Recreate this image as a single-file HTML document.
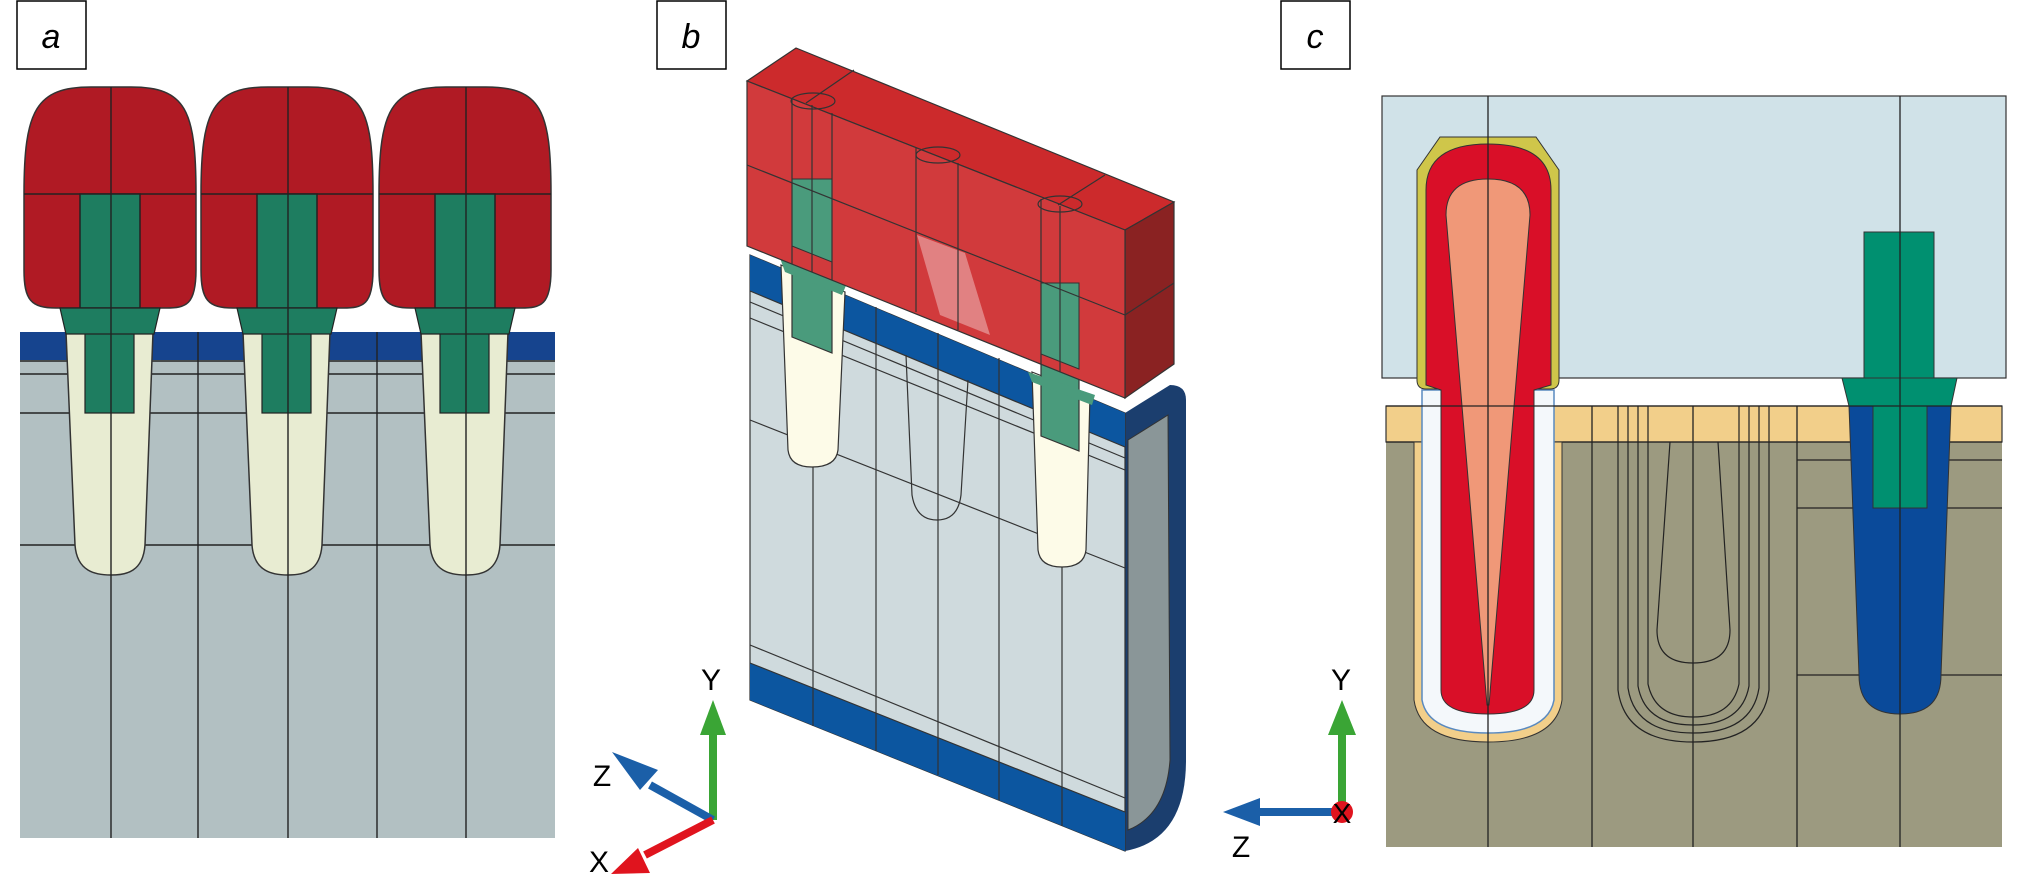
<!DOCTYPE html>
<html><head><meta charset="utf-8"><style>
html,body{margin:0;padding:0;background:#fff}
svg{display:block}
text{font-family:"Liberation Sans",sans-serif}
</style></head><body>
<svg width="2019" height="878" viewBox="0 0 2019 878" xmlns="http://www.w3.org/2000/svg">
<defs>
<g id="headA">
  <path d="M-87,194 C-87,110 -75,87 -20,87 L20,87 C75,87 85,110 85,194 L85,270 C85,305 75,308 55,308 L-55,308 C-80,308 -87,300 -87,270 Z" fill="#b01a24" stroke="#333" stroke-width="1.5"/>
  <line x1="-87" y1="194" x2="85" y2="194" stroke="#222" stroke-width="1.5"/>
  <rect x="-31" y="194" width="60" height="114" fill="#1e7d60" stroke="#222" stroke-width="1.5"/>
  <polygon points="-51,308 49,308 43,334 -45,334" fill="#1e7d60" stroke="#222" stroke-width="1.2"/>
</g>
<g id="plugA">
  <path d="M-45,332 L42,332 L34,545 C32,572 15,575 0,575 C-15,575 -34,572 -36,545 Z" fill="#e8ecd2" stroke="#333" stroke-width="1.5"/>
  <rect x="-26" y="332" width="49" height="81" fill="#1e7d60" stroke="#222" stroke-width="1.2"/>
</g>
</defs>

<!-- Panel a -->
<rect x="17" y="1" width="69" height="68" fill="#fff" stroke="#000" stroke-width="1.5"/>
<text x="51" y="48" font-size="34" font-style="italic" text-anchor="middle">a</text>
<rect x="20" y="360" width="535" height="478" fill="#b2c0c2"/>
<rect x="20" y="332" width="535" height="28" fill="#16448e"/>
<g stroke="#222" stroke-width="1.4">
<line x1="20" y1="361" x2="555" y2="361"/><line x1="20" y1="374" x2="555" y2="374"/>
<line x1="20" y1="413" x2="555" y2="413"/><line x1="20" y1="545" x2="555" y2="545"/>
<line x1="198" y1="332" x2="198" y2="838"/><line x1="377" y1="332" x2="377" y2="838"/>
</g>
<use href="#plugA" x="111"/><use href="#plugA" x="288"/><use href="#plugA" x="466"/>
<use href="#headA" x="111"/><use href="#headA" x="288"/><use href="#headA" x="466"/>
<g stroke="#222" stroke-width="1.4">
<line x1="111" y1="87" x2="111" y2="838"/><line x1="288" y1="87" x2="288" y2="838"/><line x1="466" y1="87" x2="466" y2="838"/>
</g>

<!-- Panel b -->
<rect x="657" y="1" width="69" height="68" fill="#fff" stroke="#000" stroke-width="1.5"/>
<text x="691" y="48" font-size="34" font-style="italic" text-anchor="middle">b</text>
<!-- substrate side -->
<path d="M1125,413 L1170,385 Q1186,385 1186,400 L1186,760 Q1186,840 1125,851 Z" fill="#1b3e6e"/>
<path d="M1128,440 L1168,415 L1170,760 Q1166,815 1128,830 Z" fill="#8a9698" stroke="#333" stroke-width="1"/>
<!-- substrate front -->
<polygon points="750,255 1125,413 1125,851 750,700" fill="#cfdadd" stroke="#333" stroke-width="1.2"/>
<polygon points="750,255 1125,413 1125,447 750,291" fill="#0c56a0"/>
<polygon points="750,663 1125,812 1125,851 750,700" fill="#0c56a0"/>
<g stroke="#333" stroke-width="1.2" fill="none">
<line x1="750" y1="291" x2="1125" y2="447"/><line x1="750" y1="302" x2="1125" y2="458"/>
<line x1="750" y1="318" x2="1125" y2="470"/><line x1="750" y1="420" x2="1125" y2="568"/>
<line x1="750" y1="645" x2="1125" y2="798"/><line x1="750" y1="663" x2="1125" y2="812"/>
<line x1="813" y1="280" x2="813" y2="726"/><line x1="876" y1="307" x2="876" y2="751"/>
<line x1="938" y1="333" x2="938" y2="775"/><line x1="999" y1="358" x2="999" y2="800"/>
<line x1="1062" y1="386" x2="1062" y2="826"/>
<path d="M906,355 L912,495 Q916,520 937,520 Q958,520 961,495 L968,380"/>
</g>
<!-- plugs b -->
<path d="M781,265 L845,292 L838,450 Q836,467 812,467 Q790,467 788,450 Z" fill="#fdfbe8" stroke="#333" stroke-width="1.2"/>
<path d="M1032,372 L1090,395 L1086,550 Q1084,567 1062,567 Q1040,567 1038,550 Z" fill="#fdfbe8" stroke="#333" stroke-width="1.2"/>
<polygon points="792,179 832,179 832,353 792,337" fill="#4a9b7c" stroke="#333" stroke-width="1.2"/>
<polygon points="1041,283 1079,283 1079,451 1041,436" fill="#4a9b7c" stroke="#333" stroke-width="1.2"/>
<polygon points="780,258 847,283 842,295 785,272" fill="#4a9b7c"/>
<polygon points="1028,372 1095,395 1092,405 1032,382" fill="#4a9b7c"/>
<!-- red block -->
<polygon points="747,81 796,48 1174,202 1125,230" fill="#cc2a2c" stroke="#333" stroke-width="1.2"/>
<polygon points="1125,230 1174,202 1174,364 1125,398" fill="#8a2222" stroke="#333" stroke-width="1.2"/>
<polygon points="747,81 1125,230 1125,398 747,246" fill="#d13a3c" stroke="#333" stroke-width="1.2"/>
<polygon points="792,179 832,179 832,262 792,246" fill="#4a9b7c" stroke="#333" stroke-width="1"/>
<polygon points="1041,283 1079,283 1079,369 1041,354" fill="#4a9b7c" stroke="#333" stroke-width="1"/>
<polygon points="917,235 965,253 990,335 940,315" fill="#e8a0a0" opacity="0.7"/>
<g stroke="#333" stroke-width="1.2" fill="none">
<line x1="747" y1="165" x2="1125" y2="315"/><line x1="1125" y1="315" x2="1174" y2="283"/>
<line x1="792" y1="99" x2="792" y2="264"/><line x1="812" y1="105" x2="812" y2="272"/><line x1="832" y1="113" x2="832" y2="280"/>
<line x1="916" y1="148" x2="916" y2="312"/><line x1="958" y1="163" x2="958" y2="330"/>
<line x1="1041" y1="199" x2="1041" y2="364"/><line x1="1060" y1="206" x2="1060" y2="372"/>
<line x1="855" y1="74" x2="1125" y2="230" stroke-width="0"/>
<ellipse cx="813" cy="101" rx="22" ry="8"/><ellipse cx="938" cy="155" rx="22" ry="8"/><ellipse cx="1060" cy="204" rx="22" ry="8"/>
<line x1="854" y1="70" x2="806" y2="103"/><line x1="1105" y1="175" x2="1058" y2="205"/>
</g>
<!-- axis b -->
<g stroke-linecap="butt">
<line x1="713" y1="820" x2="713" y2="730" stroke="#3aa535" stroke-width="8"/>
<polygon points="713,700 700,735 726,735" fill="#3aa535"/>
<line x1="713" y1="820" x2="650" y2="785" stroke="#1b5fa8" stroke-width="8"/>
<polygon points="612,752 640,790 658,770" fill="#1b5fa8"/>
<line x1="713" y1="820" x2="645" y2="855" stroke="#e0141e" stroke-width="8"/>
<polygon points="611,874 650,873 638,848" fill="#e0141e"/>
</g>
<text x="711" y="690" font-size="30" text-anchor="middle">Y</text>
<text x="602" y="786" font-size="30" text-anchor="middle">Z</text>
<text x="599" y="872" font-size="30" text-anchor="middle">X</text>

<!-- Panel c -->
<rect x="1281" y="1" width="69" height="68" fill="#fff" stroke="#000" stroke-width="1.5"/>
<text x="1315" y="48" font-size="34" font-style="italic" text-anchor="middle">c</text>
<rect x="1382" y="96" width="624" height="282" fill="#d0e2e8" stroke="#333" stroke-width="1.2"/>
<rect x="1386" y="442" width="616" height="405" fill="#9c9a80"/>
<rect x="1386" y="406" width="616" height="36" fill="#f2cf8a" stroke="#333" stroke-width="1.2"/>
<g stroke="#222" stroke-width="1.3">
<line x1="1386" y1="442" x2="2002" y2="442"/>
<line x1="1592" y1="406" x2="1592" y2="847"/><line x1="1693" y1="406" x2="1693" y2="847"/>
<line x1="1797" y1="406" x2="1797" y2="847"/>
<line x1="1797" y1="460" x2="2002" y2="460"/><line x1="1797" y1="508" x2="2002" y2="508"/><line x1="1797" y1="675" x2="2002" y2="675"/>
</g>
<!-- middle outlines -->
<g fill="none" stroke="#222" stroke-width="1.2">
<path d="M1618,406 L1618,690 Q1625,742 1693,742 Q1762,742 1769,690 L1769,406"/>
<path d="M1628,406 L1628,688 Q1635,733 1693,733 Q1752,733 1759,688 L1759,406"/>
<path d="M1638,406 L1638,686 Q1645,725 1693,725 Q1742,725 1749,686 L1749,406"/>
<path d="M1648,406 L1648,684 Q1655,717 1693,717 Q1732,717 1739,684 L1739,406"/>
<path d="M1670,442 L1657,630 Q1657,663 1693,663 Q1730,663 1730,630 L1718,442"/>
</g>
<!-- left electrode -->
<path d="M1414,442 L1414,700 Q1420,742 1488,742 Q1556,742 1562,700 L1562,442 Z" fill="#f2cf8a" stroke="#333" stroke-width="1"/>
<path d="M1422,390 L1422,700 Q1428,733 1488,733 Q1548,733 1554,700 L1554,390 Z" fill="#f4f8fb" stroke="#5a8ac0" stroke-width="1.5"/>
<path d="M1417,170 L1440,137 L1536,137 L1559,170 L1559,380 Q1559,389 1550,389 L1426,389 Q1417,389 1417,380 Z" fill="#cfc64a" stroke="#333" stroke-width="1"/>
<path d="M1426,190 Q1426,144 1488,144 Q1551,144 1551,190 L1551,385 L1534,390 L1534,690 Q1534,714 1488,714 Q1441,714 1441,690 L1441,390 L1426,385 Z" fill="#d90f28" stroke="#333" stroke-width="1"/>
<path d="M1446,215 Q1446,179 1488,179 Q1530,179 1530,215 L1489,705 L1487,705 Z" fill="#f09878" stroke="#333" stroke-width="1"/>
<!-- right plug -->
<path d="M1849,406 L1951,406 L1941,675 Q1941,714 1900,714 Q1859,714 1859,675 Z" fill="#0a4a9a" stroke="#333" stroke-width="1"/>
<rect x="1873" y="406" width="54" height="102" fill="#009070" stroke="#333" stroke-width="1"/>
<polygon points="1842,378 1957,378 1951,406 1849,406" fill="#009070" stroke="#333" stroke-width="1"/>
<rect x="1864" y="232" width="70" height="146" fill="#009070" stroke="#333" stroke-width="1"/>
<g stroke="#222" stroke-width="1.3">
<line x1="1488" y1="96" x2="1488" y2="847"/><line x1="1900" y1="96" x2="1900" y2="847"/>
<line x1="1386" y1="406" x2="2002" y2="406"/>
</g>
<!-- axis c -->
<line x1="1342" y1="812" x2="1342" y2="730" stroke="#3aa535" stroke-width="8"/>
<polygon points="1342,700 1328,735 1356,735" fill="#3aa535"/>
<line x1="1342" y1="812" x2="1255" y2="812" stroke="#1b5fa8" stroke-width="8"/>
<polygon points="1223,812 1260,798 1260,826" fill="#1b5fa8"/>
<circle cx="1342" cy="812" r="11" fill="#e0141e"/>
<text x="1342" y="823" font-size="28" text-anchor="middle">X</text>
<text x="1341" y="690" font-size="30" text-anchor="middle">Y</text>
<text x="1241" y="857" font-size="30" text-anchor="middle">Z</text>
</svg>
</body></html>
